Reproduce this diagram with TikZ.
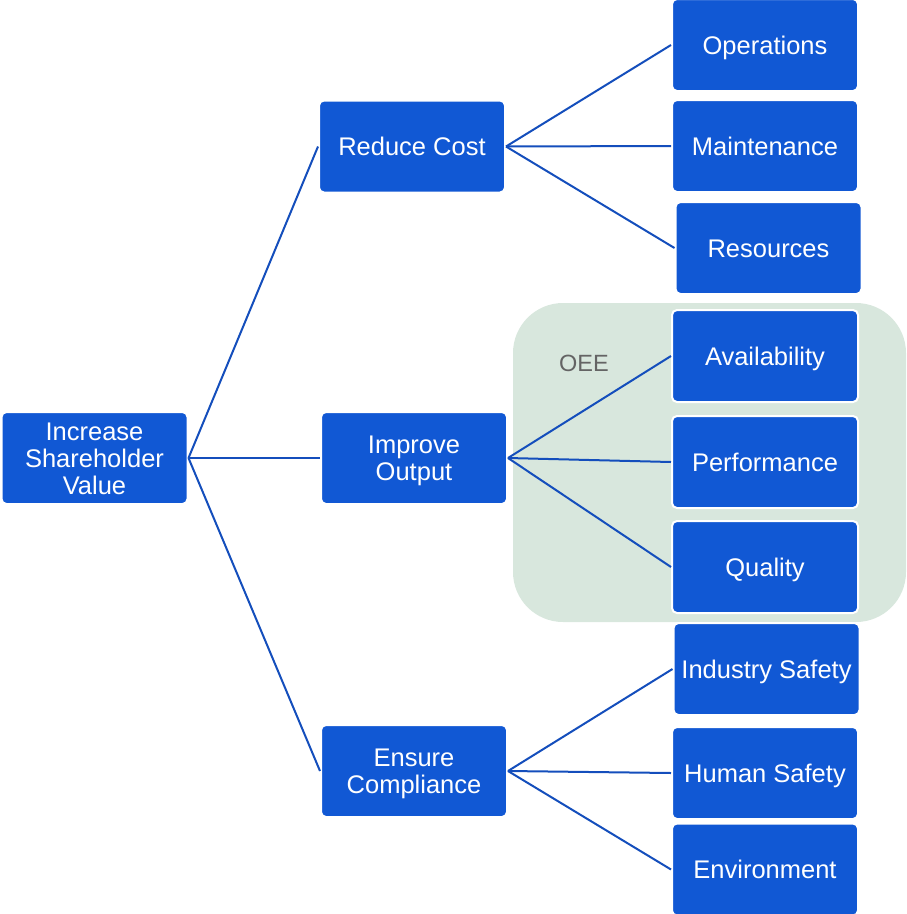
\documentclass[tikz,border=0pt]{standalone}
\usepackage{fontspec}
\setmainfont{Liberation Sans}
\usepackage{xcolor}
\usepackage{tikz}
\usetikzlibrary{positioning}
\definecolor{boxblue}{RGB}{17,88,212}
\definecolor{lineblue}{RGB}{20,78,188}
\definecolor{oeegreen}{RGB}{216,231,221}
\definecolor{oeegray}{RGB}{100,100,100}
\newcommand{\topstrut}{\rule{0pt}{0.93em}}
\newcommand{\botstrut}{\rule[-0.214em]{0pt}{0.214em}}

\begin{document}
\begin{tikzpicture}[x=1pt, y=-1pt,
goalnode/.style={rectangle, rounded corners=5pt, draw=white, line width=2pt, fill=boxblue, text=white, minimum width=186pt, minimum height=92pt, inner sep=0pt, align=center, font=\fontsize{25.5}{27}\selectfont},
linkline/.style={draw=lineblue, line width=2pt},
]
\useasboundingbox (0,0) rectangle (907,914);
%Group
\fill[oeegreen, rounded corners=50pt] (513,303) rectangle (906,622);
\node[text=oeegray, font=\fontsize{23.5}{25}\selectfont] (oee) at (584,363) {OEE};

%Nodes
\node[goalnode]		(value)			at (94.5,458)		{\topstrut Increase\\Shareholder\\Value\botstrut};
\node[goalnode]		(cost)			at (412,146.5)		{\topstrut Reduce Cost\botstrut};
\node[goalnode]		(output)		at (414,458)		{\topstrut Improve\\Output\botstrut};
\node[goalnode]		(compliance)	at (414,771)		{\topstrut Ensure\\Compliance\botstrut};
\node[goalnode]		(operations)	at (765,45)			{\topstrut Operations\botstrut};
\node[goalnode]		(maintenance)	at (765,146)		{\topstrut Maintenance\botstrut};
\node[goalnode]		(resources)		at (768.5,248)		{\topstrut Resources\botstrut};
\node[goalnode]		(availability)	at (765,356)		{\topstrut Availability\botstrut};
\node[goalnode]		(performance)	at (765,462)		{\topstrut Performance\botstrut};
\node[goalnode]		(quality)		at (765,567)		{\topstrut Quality\botstrut};
\node[goalnode]		(industry)		at (766.5,669)		{\topstrut Industry Safety\botstrut};
\node[goalnode]		(human)			at (765,773)		{\topstrut Human Safety\botstrut};
\node[goalnode]		(environment)	at (765,869.5)		{\topstrut Environment\botstrut};

%Lines
\draw[linkline] (value.east) -- (cost.west);
\draw[linkline] (value.east) -- (output.west);
\draw[linkline] (value.east) -- (compliance.west);
\draw[linkline] (cost.east) -- (operations.west);
\draw[linkline] (cost.east) -- (maintenance.west);
\draw[linkline] (cost.east) -- (resources.west);
\draw[linkline] (output.east) -- (availability.west);
\draw[linkline] (output.east) -- (performance.west);
\draw[linkline] (output.east) -- (quality.west);
\draw[linkline] (compliance.east) -- (industry.west);
\draw[linkline] (compliance.east) -- (human.west);
\draw[linkline] (compliance.east) -- (environment.west);
\end{tikzpicture}
\end{document}
